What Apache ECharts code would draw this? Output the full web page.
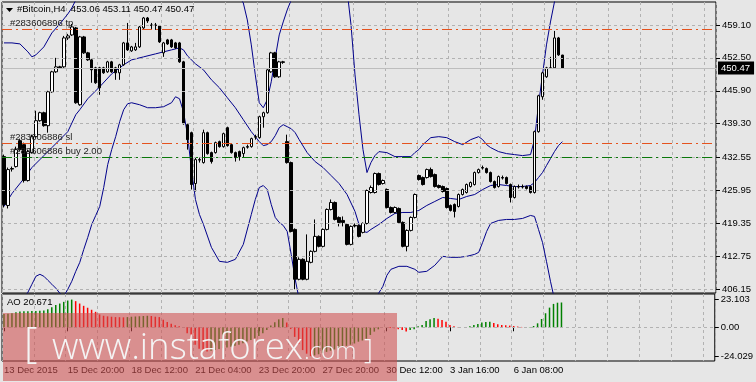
<!DOCTYPE html>
<html><head><meta charset="utf-8">
<script src="https://cdn.jsdelivr.net/npm/echarts@6/dist/echarts.min.js"></script>
<style>html,body{margin:0;padding:0;background:#e6e6e6;}#c{width:756px;height:382px;}</style>
</head><body><div id="c"></div>
<script>
// ---------- data ----------
const xTickLabels = ['13 Dec 2015','15 Dec 20:00','18 Dec 12:00','21 Dec 04:00','23 Dec 20:00','27 Dec 20:00','30 Dec 12:00','3 Jan 16:00','6 Jan 08:00'];
const slotCount = 179;
const categories = Array.from({length: slotCount}, (_, i) => String(i));
const priceTicks = [459.10, 452.50, 445.90, 439.30, 432.55, 425.95, 419.35, 412.75, 406.15];
const aoTicks = [23.103, 0, -24.029];

const open = [
432.7,422.9,430.3,430.7,435.9,435.1,427.9,433.5,436.7,439.9,
441.5,438.9,445.7,449.7,450.7,450.7,456.5,457.1,458.5,443.1,
456.7,453.5,452.1,450.5,450.5,450.5,449.7,451.7,450.5,449.5,
451.1,455.5,453.9,454.1,454.7,458.5,460.5,459.1,459.1,458.9,
453.5,456.1,456.1,455.5,455.5,451.7,439.1,437.5,427.3,432.1,
431.5,437.5,433.5,433.5,435.7,434.7,438.5,435.1,433.5,433.7,
433.3,434.7,434.7,436.7,436.5,440.7,441.5,449.7,453.5,448.7,
451.7,435.7,431.5,418.1,408.1,412.1,408.1,411.5,413.7,416.7,
414.7,418.1,422.1,423.5,420.5,419.9,419.1,415.1,418.9,418.9,
417.5,419.3,425.5,425.5,429.3,427.3,426.1,422.5,421.5,422.3,
419.5,414.7,417.9,420.5,428.9,428.5,428.5,430.1,429.1,426.9,
426.7,426.3,422.9,423.1,422.7,425.1,425.5,426.7,427.1,429.5,
430.5,430.3,429.5,427.7,426.7,428.5,428.5,427.1,424.5,426.7,
426.7,426.7,426.7,425.5,437.7,444.7,448.7,450.5,450.5,456.5,
453.06];
const close = [
423.1,430.1,430.2,434.1,434.1,427.9,433.7,436.7,439.9,441.5,
438.9,445.7,449.7,450.7,450.5,456.5,456.9,458.7,443.5,456.7,
453.5,452.1,450.1,447.5,446.5,449.5,451.7,449.7,449.5,451.1,
455.5,454.1,454.7,454.7,458.7,460.5,459.9,459.0,459.0,455.7,
455.5,455.3,454.7,454.5,451.7,439.3,436.1,427.1,432.1,432.0,
437.5,433.3,431.7,435.5,434.7,437.3,434.9,433.5,432.5,432.7,
434.5,434.6,436.3,436.6,440.7,441.5,450.1,453.5,448.7,451.7,
451.6,431.5,417.7,408.1,412.1,408.1,411.7,413.7,416.7,414.7,
418.1,422.1,423.5,420.1,419.5,419.5,415.1,418.7,418.8,416.7,
419.3,425.9,426.5,429.3,427.1,427.9,422.5,421.5,422.5,419.5,
414.7,417.9,420.5,425.1,428.1,427.1,430.1,428.7,426.7,426.5,
425.7,422.5,421.9,421.7,425.1,426.1,427.1,427.5,429.5,430.1,
430.4,429.5,427.7,426.5,428.7,428.4,427.3,424.5,426.7,426.6,
426.6,426.3,425.5,437.7,444.9,449.5,450.5,450.4,456.5,453.1,
450.47];
const low = [
422.5,422.3,429.7,430.5,433.7,427.5,427.7,433.3,436.5,439.7,
438.7,437.5,445.5,449.5,450.3,450.5,456.1,456.9,443.3,442.9,
453.3,451.9,447.5,447.3,445.1,449.3,449.5,449.5,448.1,448.1,
450.9,453.9,453.7,453.9,454.5,458.3,459.5,458.3,458.1,455.5,
452.7,455.1,454.5,454.3,451.5,439.1,434.1,426.1,425.7,431.5,
431.3,433.1,431.3,433.3,434.5,434.5,434.7,433.3,431.7,431.9,
432.5,434.3,434.5,436.1,436.3,438.5,441.3,449.5,448.5,448.5,
451.3,431.3,417.5,406.1,407.9,407.9,407.9,411.3,413.5,414.5,
414.5,417.9,421.9,419.9,418.7,418.7,414.9,414.9,418.5,416.5,
417.3,419.1,425.3,425.3,426.9,427.1,422.3,421.3,421.3,419.3,
414.5,413.7,417.7,420.3,427.9,426.9,428.3,428.5,426.5,426.3,
425.5,422.3,421.7,420.5,422.5,424.9,425.3,426.5,426.9,429.3,
430.1,429.3,427.5,426.3,426.5,428.1,427.1,423.5,424.3,426.3,
426.3,426.1,425.3,425.3,437.5,444.1,448.5,450.3,450.3,452.9,
450.47];
const high = [
433.1,430.5,430.7,434.7,436.3,435.5,434.1,437.1,441.9,441.7,
441.7,445.9,449.9,452.5,450.9,456.9,457.3,459.3,458.7,456.9,
456.9,453.7,452.3,450.7,450.7,450.7,451.9,451.9,450.7,451.3,
455.7,459.5,454.9,455.5,458.9,460.7,460.7,459.5,459.5,459.1,
455.7,456.3,456.3,455.7,455.7,451.9,439.3,437.7,432.5,432.5,
438.1,437.7,433.7,435.7,435.9,437.5,438.7,435.3,433.7,433.9,
434.7,435.1,436.5,437.1,440.9,441.7,450.3,453.7,453.7,451.9,
451.9,437.1,431.7,418.3,412.5,412.3,417.1,413.9,420.1,416.9,
418.3,422.3,424.1,423.7,420.7,420.7,419.3,418.9,419.3,419.1,
419.5,426.1,426.9,429.5,429.5,428.1,426.3,422.7,422.7,422.5,
419.7,418.1,420.7,425.3,429.1,428.7,430.3,430.5,429.3,427.1,
426.9,426.5,423.1,423.3,425.3,426.3,427.3,427.7,429.7,430.3,
430.9,430.5,429.7,427.9,428.9,428.9,428.7,427.3,426.9,427.1,
427.1,426.9,426.9,437.9,445.1,449.7,450.7,452.7,457.9,456.7,
453.11];

const bbUpper = [[0,455.5],[2,455.5],[4,455.3],[6,453.7],[7,452.7],[8,453.1],[10,454.7],[12,457.5],[14,459.3],[16,461.3],[17,462.5],[18,464.1],[20,468.1],[25,474.1],[30,476.1],[40,476.1],[50,474.1],[55,470.1],[58,466.1],[60,463.5],[61,460.1],[62,455.1],[63,449.1],[64,443.5],[65,442.5],[66,444.1],[67,447.7],[68,452.5],[69,457.1],[70,459.7],[71,462.1],[72,464.1],[75,472.1],[80,474.1],[85,468.1],[86,466.1],[87,459.1],[88,449.1],[89,441.1],[90,434.1],[91,429.5],[92,431.5],[93,432.9],[94,433.7],[96,433.5],[98,432.7],[100,432.7],[102,432.7],[103,433.5],[104,434.1],[105,435.1],[107,436.5],[109,436.7],[111,436.5],[113,435.7],[115,435.1],[117,436.1],[119,436.7],[120,436.1],[121,435.1],[122,434.5],[124,433.7],[126,433.3],[128,433.1],[130,432.9],[132,433.1],[133,436.1],[134,443.1],[135,449.1],[136,455.1],[137,459.7],[138,463.7],[139,467.7],[140,471.7]];
const bbMiddle = [[0,422.7],[2,425.3],[5,428.3],[7,430.5],[10,432.9],[12,434.5],[14,436.1],[16,437.7],[18,441.1],[19,442.1],[21,444.3],[24,446.7],[27,449.3],[30,451.1],[32,452.1],[35,452.7],[38,453.3],[40,453.7],[42,454.1],[44,454.5],[45,454.1],[46,452.9],[48,451.3],[50,450.1],[52,448.1],[54,446.5],[56,444.5],[58,442.5],[60,440.1],[62,437.7],[64,435.7],[65,434.9],[66,435.1],[67,435.7],[68,436.9],[69,438.5],[70,439.1],[71,438.7],[72,438.3],[73,437.5],[74,436.1],[76,433.5],[78,431.7],[80,430.5],[82,428.9],[84,427.3],[86,425.1],[88,421.7],[89,419.1],[90,417.7],[91,417.5],[92,418.1],[94,419.1],[96,420.3],[98,421.3],[100,421.5],[102,421.5],[104,421.9],[106,422.9],[108,423.7],[110,424.5],[112,424.3],[114,424.1],[116,424.7],[118,425.1],[120,426.1],[122,426.9],[124,427.1],[126,426.9],[128,426.7],[130,426.7],[132,426.9],[133,427.5],[134,428.5],[135,429.5],[136,430.9],[137,432.3],[138,433.7],[139,434.9],[140,435.7]];
const bbLower = [[0,398.1],[3,402.1],[5,404.5],[6,405.5],[7,407.1],[8,408.7],[9,409.1],[10,408.7],[11,407.9],[12,407.1],[13,406.3],[14,405.3],[15,404.7],[16,406.1],[17,407.7],[18,409.7],[19,411.5],[20,414.1],[21,416.5],[22,419.1],[23,420.9],[24,422.7],[25,426.5],[26,431.1],[27,434.1],[28,436.7],[29,439.7],[30,442.1],[31,443.3],[32,443.5],[34,443.1],[36,442.5],[38,442.5],[40,442.7],[42,443.5],[43,444.7],[44,444.3],[45,441.7],[46,437.1],[47,430.1],[48,424.1],[49,421.1],[50,419.1],[52,414.5],[54,411.7],[56,411.5],[58,412.1],[60,415.1],[62,421.1],[63,424.1],[64,426.5],[65,426.9],[66,426.1],[67,423.1],[68,420.5],[69,419.5],[70,418.9],[71,417.7],[72,413.1],[73,408.1],[74,404.1],[76,400.1],[80,396.1],[85,396.1],[90,400.1],[93,404.1],[95,406.7],[96,408.9],[97,410.1],[99,410.7],[101,410.7],[103,410.1],[104,409.5],[106,409.7],[108,410.9],[110,412.7],[112,412.5],[114,412.5],[116,412.7],[118,413.1],[119,413.5],[120,415.5],[121,417.7],[122,419.3],[124,419.9],[126,420.1],[128,420.1],[130,420.3],[132,420.9],[133,420.7],[134,418.1],[135,415.5],[136,411.7],[137,407.7],[138,404.1],[139,400.1],[140,396.1]];

const aoValues = [
11.0,11.3,11.8,12.5,13.2,13.3,13.4,13.5,13.6,13.8,
14.0,15.0,16.8,18.5,19.8,21.2,22.3,23.103,21.8,19.8,
17.9,16.3,14.6,12.9,10.7,9.6,9.1,8.8,8.5,8.4,
8.3,8.5,8.8,9.0,9.2,9.4,9.6,9.4,8.8,8.5,
6.3,4.4,3.0,1.7,0.8,-0.5,-5.0,-10.5,-14.6,-17.9,
-19.6,-20.1,-19.6,-19.0,-18.2,-17.4,-16.8,-16.3,-15.4,-14.6,
-13.2,-11.8,-10.5,-9.1,-7.2,-5.0,-2.2,1.4,4.1,6.6,
7.7,4.0,-1.5,-8.0,-14.0,-19.0,-22.0,-24.029,-23.5,-22.5,
-21.5,-20.5,-19.5,-18.5,-17.5,-16.5,-15.5,-14.5,-13.5,-12.0,
-11.0,-9.5,-6.4,-3.6,-1.7,-0.6,-0.3,-0.5,-0.9,-1.7,
-2.2,-3.6,-2.2,-1.7,0.8,1.9,5.3,6.7,7.8,7.2,
6.1,4.7,1.9,0.8,0.3,0.1,0.15,0.8,1.9,2.8,
3.9,4.4,4.7,3.6,2.5,1.9,1.7,1.4,1.1,0.6,
0.3,0.1,0.2,1.1,3.3,6.9,11.7,16.4,19.5,20.5,
20.671];

const tpPrice = 458.24, slPrice = 435.44, buyPrice = 432.64, lastPrice = 450.47;
const titleText = '#Bitcoin,H4  453.06 453.11 450.47 450.47';
const aoTitle = 'AO 20.671';

// ---------- chart ----------
const FONT = 'Liberation Sans';
const FS = 9.5;
const gridDash = {type: [3, 3], color: '#b2b2b2', width: 1};
const orange = '#e4531f', green = '#0a780a';

const ohlc = open.map((o, i) => [o, close[i], low[i], high[i]]);

const chart = echarts.init(document.getElementById('c'), null, {renderer: 'canvas'});
chart.setOption({
  animation: false,
  backgroundColor: '#e6e6e6',
  textStyle: {fontFamily: FONT},
  grid: [
    {left: 2, top: 2, width: 714, height: 291, show: true, borderColor: '#000', borderWidth: 1, backgroundColor: '#e6e6e6'},
    {left: 2, top: 294, width: 714, height: 67, show: true, borderColor: '#000', borderWidth: 1, backgroundColor: '#e6e6e6'}
  ],
  xAxis: [
    {type: 'category', gridIndex: 0, data: categories, boundaryGap: true,
     axisLine: {show: false}, axisTick: {show: false}, axisLabel: {show: false},
     splitLine: {show: true, interval: 7, lineStyle: gridDash}},
    {type: 'category', gridIndex: 1, data: categories, boundaryGap: true,
     axisLine: {show: false},
     axisTick: {show: true, alignWithLabel: true, length: 4, lineStyle: {color: '#000'},
                interval: (idx) => idx % 16 === 0 && idx / 16 < xTickLabels.length},
     axisLabel: {show: true, interval: 15, align: 'left', margin: 4, color: '#000', fontSize: FS, fontFamily: FONT,
                 formatter: (v, idx) => xTickLabels[idx / 16] || ''},
     splitLine: {show: true, interval: 7, lineStyle: gridDash}}
  ],
  yAxis: [
    {type: 'value', gridIndex: 0, position: 'right', min: 405.35, max: 463.7, scale: true,
     axisLine: {show: false}, splitLine: {show: false},
     axisTick: {show: true, customValues: priceTicks, length: 4, lineStyle: {color: '#000'}},
     axisLabel: {show: true, customValues: priceTicks, margin: 6, color: '#000', fontSize: FS, fontFamily: FONT,
                 formatter: (v) => v.toFixed(2)}},
    {type: 'value', gridIndex: 1, position: 'right', min: -28.1, max: 27.75,
     axisLine: {show: false}, splitLine: {show: false},
     axisTick: {show: true, customValues: aoTicks, length: 4, lineStyle: {color: '#000'}},
     axisLabel: {show: true, customValues: aoTicks, margin: 6, color: '#000', fontSize: FS, fontFamily: FONT,
                 formatter: (v) => v === 0 ? '0.00' : v.toFixed(3)}}
  ],
  series: [
    {name: 'bbLower', type: 'line', xAxisIndex: 0, yAxisIndex: 0, data: bbLower, showSymbol: false, silent: true, clip: true,
     lineStyle: {color: '#00008b', width: 1}, z: 2},
    {name: 'bbUpper', type: 'line', xAxisIndex: 0, yAxisIndex: 0, data: bbUpper, showSymbol: false, silent: true, clip: true,
     lineStyle: {color: '#00008b', width: 1}, z: 2},
    {name: 'bbMiddle', type: 'line', xAxisIndex: 0, yAxisIndex: 0, data: bbMiddle, showSymbol: false, silent: true, clip: true,
     lineStyle: {color: '#00008b', width: 1}, z: 2,
     markLine: {
       silent: true, symbol: 'none', animation: false,
       data: [
         ...priceTicks.map(v => ({yAxis: v, lineStyle: gridDash, label: {show: false}})),
         {yAxis: lastPrice, lineStyle: {type: 'solid', color: '#bdbdbd', width: 1},
          label: {show: true, position: 'end', distance: 2, formatter: lastPrice.toFixed(2), color: '#fff',
                  backgroundColor: '#000', padding: [2, 4, 1, 3], fontSize: FS, fontFamily: FONT}},
         {yAxis: tpPrice, lineStyle: {type: [10, 4, 2, 4], color: orange, width: 1},
          label: {show: true, position: 'insideStartTop', distance: [8, 1], formatter: '#283606896 tp', color: '#222', fontSize: FS, fontFamily: FONT}},
         {yAxis: slPrice, lineStyle: {type: [10, 4, 2, 4], color: orange, width: 1},
          label: {show: true, position: 'insideStartTop', distance: [8, 1], formatter: '#283606886 sl', color: '#222', fontSize: FS, fontFamily: FONT}},
         {yAxis: buyPrice, lineStyle: {type: [10, 4, 2, 4], color: green, width: 1},
          label: {show: true, position: 'insideStartTop', distance: [8, 1], formatter: '#283606886 buy 2.00', color: '#222', fontSize: FS, fontFamily: FONT}}
       ]
     }},
    {name: 'price', type: 'candlestick', xAxisIndex: 0, yAxisIndex: 0, data: ohlc, barWidth: 3, z: 3,
     itemStyle: {color: '#ffffff', color0: '#000000', borderColor: '#000000', borderColor0: '#000000', borderColorDoji: '#000000', borderWidth: 1}},
    {name: 'AO', type: 'bar', xAxisIndex: 1, yAxisIndex: 1, data: aoValues, barWidth: 1.5, silent: true,
     itemStyle: {color: (p) => (p.dataIndex === 0 || aoValues[p.dataIndex] >= aoValues[p.dataIndex - 1]) ? '#008000' : '#ff0000'},
     markLine: {silent: true, symbol: 'none', data: [{yAxis: 0, lineStyle: gridDash, label: {show: false}}]}}
  ],
  graphic: [
    {type: 'polygon', shape: {points: [[6, 8], [13, 8], [9.5, 12]]}, style: {fill: '#000'}, z: 50},
    {type: 'text', left: 17, top: 4, style: {text: titleText, fill: '#000', font: FS + 'px "' + FONT + '"'}, z: 50},
    {type: 'text', left: 7, top: 297, style: {text: aoTitle, fill: '#000', font: FS + 'px "' + FONT + '"'}, z: 50},
    {type: 'rect', shape: {x: 3, y: 313, width: 394, height: 68}, style: {fill: 'rgba(206,79,79,0.58)'}, z: 100},
    {type: 'text', x: 24, y: 366, style: {text: '[', fill: '#f4f4f4', font: '300 42px "Open Sans"', textVerticalAlign: 'bottom'}, z: 101},
    {type: 'text', x: 52, y: 367, style: {text: 'www.instaforex', fill: '#f4f4f4', font: '300 36.5px "Open Sans"', textVerticalAlign: 'bottom'}, z: 101},
    {type: 'text', x: 304, y: 364, style: {text: '.com', fill: '#f4f4f4', font: '300 24px "Open Sans"', textVerticalAlign: 'bottom'}, z: 101},
    {type: 'text', x: 364, y: 365, style: {text: ']', fill: '#f4f4f4', font: '300 28px "Open Sans"', textVerticalAlign: 'bottom'}, z: 101}
  ]
});
</script></body></html>
